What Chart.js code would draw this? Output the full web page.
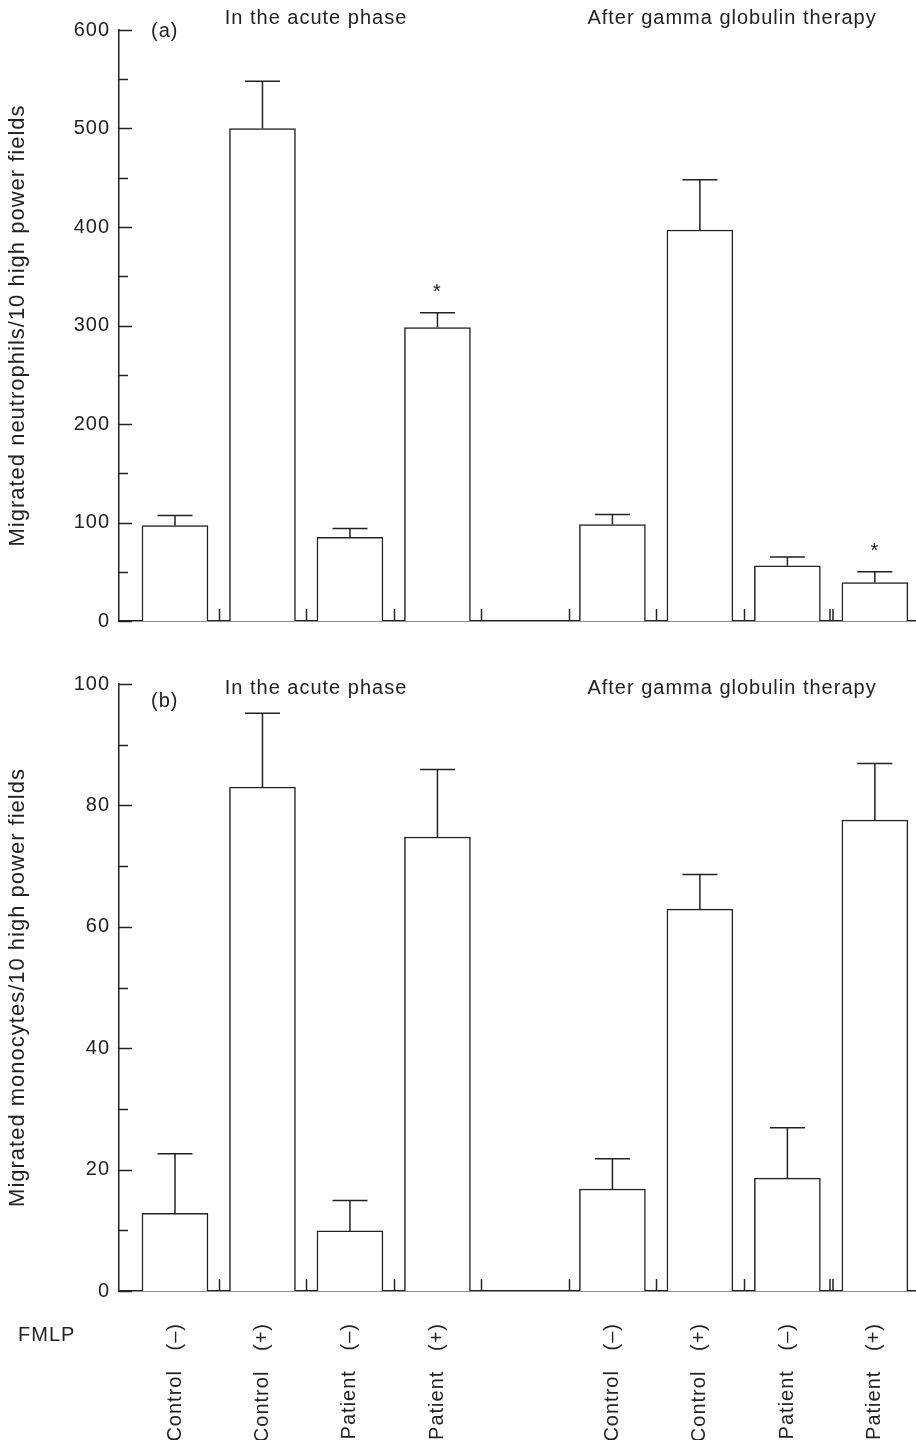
<!DOCTYPE html>
<html>
<head>
<meta charset="utf-8">
<script src="https://cdn.jsdelivr.net/npm/chart.js@4.4.1/dist/chart.umd.min.js"></script>
<style>
  html, body { margin: 0; padding: 0; background: #fff; }
  #wrap { position: relative; width: 916px; height: 1440px; }
  .panel { position: absolute; left: 0; width: 916px; }
  #panelA { top: 0; height: 650px; }
  #panelB { top: 650px; height: 790px; }
</style>
</head>
<body>
<div id="wrap">
  <div class="panel" id="panelA"><canvas id="chartA"></canvas></div>
  <div class="panel" id="panelB"><canvas id="chartB"></canvas></div>
</div>
<script>
// ---- data ----
const groups = ['Control', 'Control', 'Patient', 'Patient'];
const fmlp = ['(–)', '(+)', '(–)', '(+)'];
const phases = ['In the acute phase', 'After gamma globulin therapy'];

// slot positions on the x axis (slot 4 is the empty gap between phases)
const slotsAcute = [0, 1, 2, 3];
const slotsAfter = [5, 6, 7, 8];
const boundaries = [0.5, 1.5, 2.5, 3.5, 4.5, 5.5, 6.5, 7.5];

// (a) neutrophils, mean and SD
const neutroAcute = [97, 500, 85, 298];
const neutroAcuteSd = [10, 48, 9, 15];
const neutroAfter = [98, 397, 56, 39];
const neutroAfterSd = [10, 51, 9, 11];
const neutroStars = [3, 8];
const neutroTicks = [0, 100, 200, 300, 400, 500, 600];

// (b) monocytes, mean and SD
const monoAcute = [12.8, 83, 9.9, 74.8];
const monoAcuteSd = [9.8, 12.2, 5, 11.1];
const monoAfter = [16.8, 62.9, 18.6, 77.6];
const monoAfterSd = [5, 5.7, 8.3, 9.3];
const monoStars = [];
const monoTicks = [0, 20, 40, 60, 80, 100];

const INK = '#222';
const FONT = { family: "'Liberation Sans', Arial, sans-serif", size: 20 };
const TITLE_FONT = { family: FONT.family, size: 22 };
Chart.defaults.font.family = FONT.family;
Chart.defaults.color = INK;

const xLabels = groups.concat(groups).map((g, i) => g + '   ' + fmlp[i % 4]);

// Espaçamento de letras como no original
const spacing = {
    id: 'spacing',
    beforeDraw(chart) { chart.ctx.letterSpacing = '1px'; }
};

// barras de erro (só para cima)
const errorBars = {
    id: 'errorBars',
    afterDatasetsDraw(chart) {
        const { ctx, scales: { y } } = chart;
        const pts = chart.data.datasets[0].data;
        ctx.save();
        ctx.strokeStyle = INK;
        ctx.lineWidth = 1.5;
        chart.getDatasetMeta(0).data.forEach((bar, i) => {
            const top = y.getPixelForValue(pts[i].y);
            const tip = y.getPixelForValue(pts[i].y + pts[i].sd);
            ctx.beginPath();
            ctx.moveTo(bar.x, top);
            ctx.lineTo(bar.x, tip);
            ctx.moveTo(bar.x - 17.5, tip);
            ctx.lineTo(bar.x + 17.5, tip);
            ctx.stroke();
        });
        ctx.restore();
    }
};

// ticks voltados para dentro + textos do painel
const decor = {
    id: 'decor',
    afterDraw(chart, args, opts) {
        const { ctx, chartArea, scales: { x, y } } = chart;
        ctx.save();
        ctx.strokeStyle = INK;
        ctx.lineWidth = 1.5;
        y.ticks.forEach(t => {
            const py = Math.round(y.getPixelForValue(t.value)) + 0.5;
            const len = opts.major.includes(t.value) ? 13 : 9;
            ctx.beginPath();
            ctx.moveTo(chartArea.left, py);
            ctx.lineTo(chartArea.left + len, py);
            ctx.stroke();
        });
        boundaries.forEach((b, i) => {
            const px = Math.round(x.getPixelForValue(b)) + 0.5;
            const offs = i === boundaries.length - 1 ? [-1.5, 1.5] : [0];
            offs.forEach(o => {
                ctx.beginPath();
                ctx.moveTo(px + o, chartArea.bottom);
                ctx.lineTo(px + o, chartArea.bottom - 12);
                ctx.stroke();
            });
        });

        ctx.fillStyle = INK;
        ctx.font = '20px ' + FONT.family;
        ctx.textAlign = 'center';
        ctx.textBaseline = 'alphabetic';
        ctx.fillText(phases[0], 316, opts.titleY);
        ctx.fillText(phases[1], 732, opts.titleY);
        ctx.textAlign = 'left';
        ctx.fillText(opts.letter, 151, opts.letterY);
        if (opts.fmlp) ctx.fillText('FMLP', 18, opts.fmlp);

        // asteriscos de significância
        const pts = chart.data.datasets[0].data;
        ctx.textAlign = 'center';
        opts.stars.forEach(s => {
            const p = pts.find(d => d.x === s);
            const tip = y.getPixelForValue(p.y + p.sd);
            ctx.fillText('*', x.getPixelForValue(s), tip - 15);
        });
        ctx.restore();
    }
};

function makePanel(canvasId, cfg) {
    const data = slotsAcute.map((s, i) => ({ x: s, y: cfg.acute[i], sd: cfg.acuteSd[i] }))
        .concat(slotsAfter.map((s, i) => ({ x: s, y: cfg.after[i], sd: cfg.afterSd[i] })));
    const barSlots = slotsAcute.concat(slotsAfter);

    return new Chart(document.getElementById(canvasId), {
        type: 'bar',
        data: {
            datasets: [{
                data: data,
                backgroundColor: '#fff',
                borderColor: INK,
                borderWidth: 1.5,
                borderSkipped: 'start',
                barThickness: 66
            }]
        },
        options: {
            responsive: true,
            maintainAspectRatio: false,
            animation: false,
            layout: { padding: { top: cfg.top, right: 0, bottom: 0, left: 0 } },
            plugins: {
                legend: { display: false },
                tooltip: { enabled: false },
                decor: {
                    major: cfg.ticks, letter: cfg.letter, letterY: cfg.letterY,
                    titleY: cfg.titleY, stars: cfg.stars, fmlp: cfg.fmlpY
                }
            },
            scales: {
                x: {
                    type: 'linear',
                    offset: false,
                    min: -0.64,
                    max: 8.47,
                    afterBuildTicks: s => { s.ticks = barSlots.map(v => ({ value: v })); },
                    afterFit: s => {
                        s.height = cfg.xHeight;
                        s.paddingLeft = 0;
                        s.paddingRight = 0;
                    },
                    grid: { display: false, drawTicks: false },
                    border: { display: true, color: INK, width: 1.5 },
                    ticks: {
                        display: cfg.showLabels,
                        autoSkip: false,
                        minRotation: 90,
                        maxRotation: 90,
                        padding: 32,
                        color: INK,
                        font: FONT,
                        callback: (v, i) => xLabels[i]
                    }
                },
                y: {
                    min: 0,
                    max: cfg.max,
                    afterFit: s => { s.width = 119; },
                    grid: { display: false, drawTicks: false },
                    border: { display: true, color: INK, width: 1.5 },
                    ticks: {
                        stepSize: cfg.step,
                        padding: 9,
                        color: INK,
                        font: FONT,
                        callback: v => cfg.ticks.includes(v) ? v : ''
                    },
                    title: {
                        display: true,
                        text: cfg.yTitle,
                        color: INK,
                        font: TITLE_FONT,
                        padding: { top: 5, bottom: 0 }
                    }
                }
            }
        },
        plugins: [spacing, errorBars, decor]
    });
}

makePanel('chartA', {
    acute: neutroAcute, acuteSd: neutroAcuteSd,
    after: neutroAfter, afterSd: neutroAfterSd,
    stars: neutroStars, ticks: neutroTicks, max: 600, step: 50,
    yTitle: 'Migrated neutrophils/10 high power fields',
    letter: '(a)', letterY: 37, titleY: 24,
    top: 30, xHeight: 29, showLabels: false
});

makePanel('chartB', {
    acute: monoAcute, acuteSd: monoAcuteSd,
    after: monoAfter, afterSd: monoAfterSd,
    stars: monoStars, ticks: monoTicks, max: 100, step: 10,
    yTitle: 'Migrated monocytes/10 high power fields',
    letter: '(b)', letterY: 57, titleY: 44, fmlpY: 691,
    top: 34, xHeight: 149, showLabels: true
});
</script>
</body>
</html>
